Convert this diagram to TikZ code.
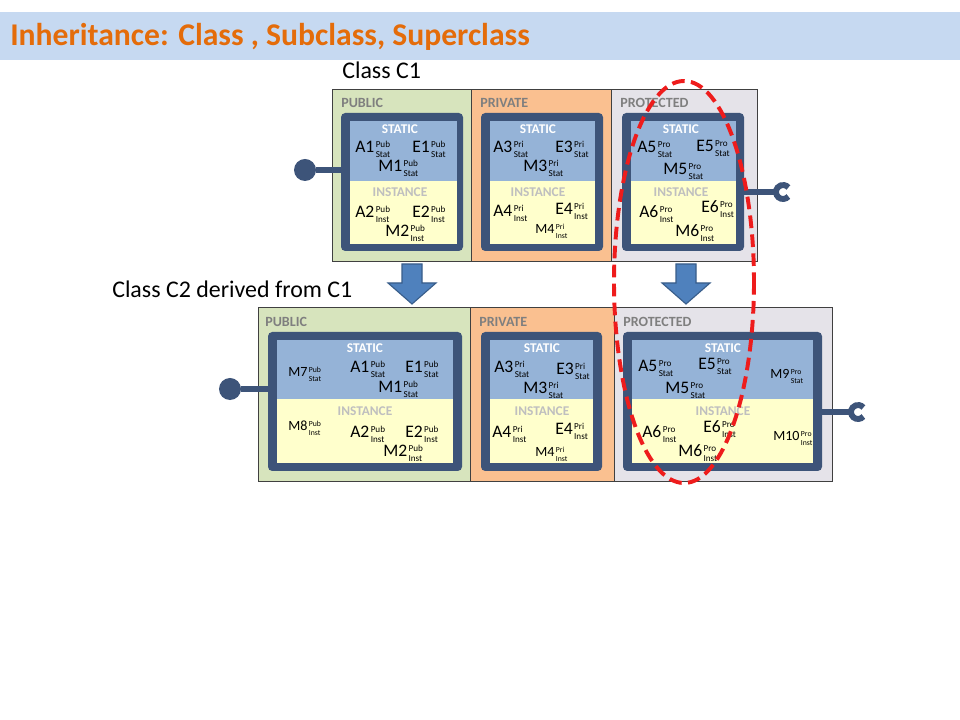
\documentclass[tikz,border=0pt]{standalone}
\usepackage{fontspec}
\setmainfont{Carlito}
\usetikzlibrary{fit}
\definecolor{titleBand}{HTML}{C6D9F1}
\definecolor{titleOrange}{HTML}{E46C0A}
\definecolor{pubGreen}{HTML}{D7E4BD}
\definecolor{priOrange}{HTML}{FAC090}
\definecolor{proGray}{HTML}{E5E3E9}
\definecolor{frameBlue}{HTML}{3D5479}
\definecolor{statBlue}{HTML}{95B3D7}
\definecolor{instYellow}{HTML}{FFFFCC}
\definecolor{labGray}{HTML}{7F7F7F}
\definecolor{instGray}{HTML}{BFBFBF}
\definecolor{boxInk}{HTML}{404040}
\definecolor{arrowBlue}{HTML}{4F81BD}
\definecolor{arrowEdge}{HTML}{385D8A}
\definecolor{markRed}{HTML}{EE1C1C}
\newcommand{\mb}[3]{#1\hspace{1pt}{\fontsize{6.5}{7.2}\selectfont\def\arraystretch{1}\begin{tabular}[c]{@{}l@{}}#2\\#3\end{tabular}}}
\newcommand{\ms}[3]{#1\hspace{1pt}{\fontsize{5.5}{6.2}\selectfont\def\arraystretch{1}\begin{tabular}[c]{@{}l@{}}#2\\#3\end{tabular}}}
\begin{document}
\begin{tikzpicture}[x=0.025cm,y=-0.025cm,font=\fontsize{12.5}{12.5}\selectfont,
  secbox/.style={draw=boxInk,fill=#1,line width=0.6pt,inner sep=0pt},
  frame/.style={fill=frameBlue,rounded corners=3pt,inner sep=0pt},
  area/.style={fill=#1,inner sep=0pt},
  seclab/.style={font=\bfseries\fontsize{10}{10}\selectfont,text=labGray,anchor=west,inner sep=0pt},
  head/.style={font=\bfseries\fontsize{9.5}{9.5}\selectfont,text=#1,inner sep=0pt},
  mem/.style={anchor=west,inner sep=0pt,yshift=-1.5pt},
  small/.style={mem,font=\fontsize{10}{10}\selectfont},
  conn/.style={draw=frameBlue,line width=4.2pt},
  knob/.style={circle,fill=frameBlue,minimum size=0.55cm,inner sep=0pt},
  heir/.style={fill=arrowBlue,draw=arrowEdge,line width=0.8pt,line join=miter}
]
  \useasboundingbox (0,0) rectangle (960,720);
  \fill[white] (0,0) rectangle (960,720);
  \fill[titleBand] (0,12) rectangle (960,60);
  \node[anchor=west,inner sep=0pt,font=\bfseries\fontsize{22.5}{22.5}\selectfont,text=titleOrange] (title) at (10,37)
    {Inheritance: Class , Subclass, Superclass};

  % class C1
  \node[anchor=west,inner sep=0pt,font=\fontsize{17}{17}\selectfont] (lblA) at (342,70) {Class C1};
  \node[secbox=pubGreen,fit={(332,89) (471,261)}] (pubA) {};
  \node[secbox=priOrange,fit={(471,89) (611,261)}] (priA) {};
  \node[secbox=proGray,fit={(611,89) (757,261)}] (proA) {};
  \node[seclab] (pubLabA) at (341,103) {PUBLIC};
  \node[seclab] (priLabA) at (480,103) {PRIVATE};
  \node[seclab] (proLabA) at (620,103) {PROTECTED};

  \node[frame,fit={(341,113) (463,251)}] (frPubA) {};
  \node[frame,fit={(481,113) (603,251)}] (frPriA) {};
  \node[frame,fit={(622,113) (744,251)}] (frProA) {};
  \foreach \l/\r/\n in {350/457/PubA,490/595/PriA,631/736/ProA} {
    \node[area=statBlue,fit={(\l,121) (\r,181)}] (st\n) {};
    \node[area=instYellow,fit={(\l,181) (\r,244)}] (in\n) {};
  }
  \foreach \x/\n in {400/PubA,538/PriA,681/ProA} {
    \node[head=white] (sh\n) at (\x,129) {STATIC};
    \node[head=instGray] (ih\n) at (\x,192) {INSTANCE};
  }
  \foreach \x/\y/\m/\p/\s [count=\i] in {355/148/A1/Pub/Stat,412/148/E1/Pub/Stat,378/167/M1/Pub/Stat,
      355/213/A2/Pub/Inst,412/213/E2/Pub/Inst,385/232/M2/Pub/Inst,
      493/148/A3/Pri/Stat,555/148/E3/Pri/Stat,523/167/M3/Pri/Stat,493/212/A4/Pri/Inst,555/210/E4/Pri/Inst,
      637/148/A5/Pro/Stat,696/147/E5/Pro/Stat,663/170/M5/Pro/Stat,
      639/213/A6/Pro/Inst,701/208/E6/Pro/Inst,675/232/M6/Pro/Inst}
    \node[mem] (memA\i) at (\x,\y) {\mb{\m}{\p}{\s}};
  \node[small] (memA18) at (535,230) {\ms{M4}{Pri}{Inst}};

  \node[knob] (knobA) at (305,170) {};
  \draw[conn] (knobA) -- (knobA -| frPubA.west);
  \coordinate (sockA) at (776,192);
  \coordinate (cupA) at (783,192);
  \draw[conn] (sockA -| frProA.east) -- (sockA);
  \draw[conn] ([shift={(40:7)}]cupA) arc[start angle=40,end angle=320,radius=7];

  % inheritance arrows
  \foreach \c in {412,686}
    \draw[heir] (\c-10,264) -- (\c+10,264) -- (\c+10,283) -- (\c+24,283) --
      (\c,304) -- (\c-24,283) -- (\c-10,283) -- cycle;

  % class C2
  \node[anchor=west,inner sep=0pt,font=\fontsize{17}{17}\selectfont] (lblB) at (112,289) {Class C2 derived from C1};
  \node[secbox=pubGreen,fit={(258,307) (470,481)}] (pubB) {};
  \node[secbox=priOrange,fit={(470,307) (614,481)}] (priB) {};
  \node[secbox=proGray,fit={(614,307) (832,481)}] (proB) {};
  \node[seclab] (pubLabB) at (265,322) {PUBLIC};
  \node[seclab] (priLabB) at (479,322) {PRIVATE};
  \node[seclab] (proLabB) at (623,322) {PROTECTED};

  \node[frame,fit={(268,332) (462,471)}] (frPubB) {};
  \node[frame,fit={(481,332) (602,471)}] (frPriB) {};
  \node[frame,fit={(623,332) (822,471)}] (frProB) {};
  \foreach \l/\r/\n in {277/453/PubB,490/593/PriB,632/813/ProB} {
    \node[area=statBlue,fit={(\l,340) (\r,399)}] (st\n) {};
    \node[area=instYellow,fit={(\l,399) (\r,463)}] (in\n) {};
  }
  \foreach \x/\n in {365/PubB,542/PriB,723/ProB} {
    \node[head=white] (sh\n) at (\x,348) {STATIC};
    \node[head=instGray] (ih\n) at (\x,411) {INSTANCE};
  }
  \foreach \x/\y/\m/\p/\s [count=\i] in {350/368/A1/Pub/Stat,405/368/E1/Pub/Stat,378/388/M1/Pub/Stat,
      350/433/A2/Pub/Inst,405/433/E2/Pub/Inst,383/452/M2/Pub/Inst,
      494/368/A3/Pri/Stat,556/370/E3/Pri/Stat,523/389/M3/Pri/Stat,492/433/A4/Pri/Inst,555/430/E4/Pri/Inst,
      638/367/A5/Pro/Stat,698/365/E5/Pro/Stat,665/389/M5/Pro/Stat,
      642/433/A6/Pro/Inst,703/428/E6/Pro/Inst,678/452/M6/Pro/Inst}
    \node[mem] (memB\i) at (\x,\y) {\mb{\m}{\p}{\s}};
  \foreach \x/\y/\m/\p/\s [count=\i] in {288/373/M7/Pub/Stat,288/427/M8/Pub/Inst,535/453/M4/Pri/Inst,
      770/375/M9/Pro/Stat,773/437/M10/Pro/Inst}
    \node[small] (smB\i) at (\x,\y) {\ms{\m}{\p}{\s}};

  \node[knob] (knobB) at (230,389) {};
  \draw[conn] (knobB) -- (knobB -| frPubB.west);
  \coordinate (sockB) at (851,412);
  \coordinate (cupB) at (858,412);
  \draw[conn] (sockB -| frProB.east) -- (sockB);
  \draw[conn] ([shift={(40:7)}]cupB) arc[start angle=40,end angle=320,radius=7];

  % protected members carried over
  \draw[markRed,line width=2.8pt,dash pattern=on 9pt off 4.5pt] (684,282) ellipse [x radius=70,y radius=201];
\end{tikzpicture}
\end{document}
